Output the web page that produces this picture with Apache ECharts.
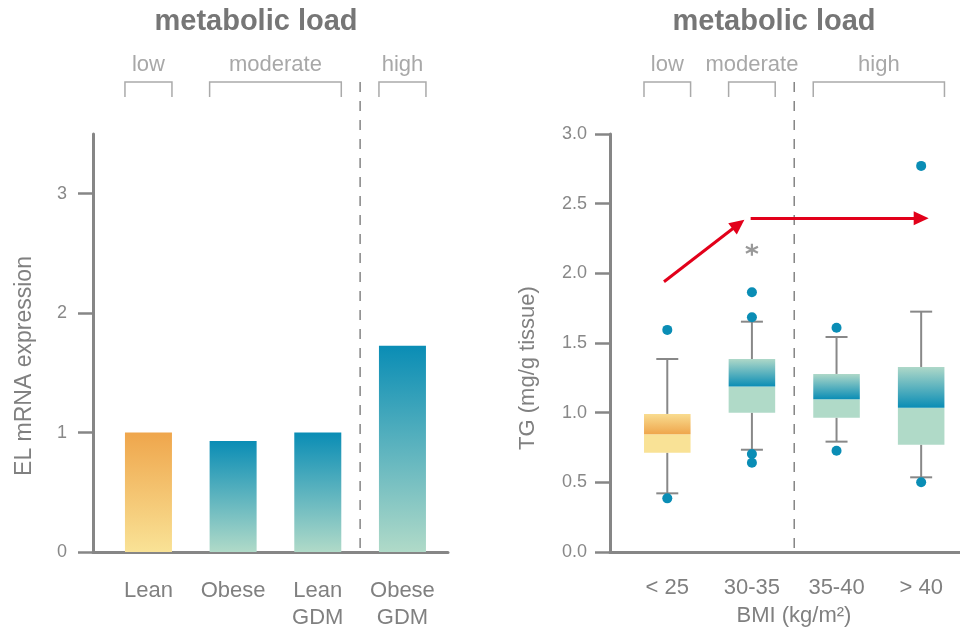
<!DOCTYPE html>
<html><head><meta charset="utf-8">
<script src="https://cdn.jsdelivr.net/npm/echarts@6/dist/echarts.min.js"></script>
<style>html,body{margin:0;padding:0;background:#fff}#c{width:960px;height:632px}</style>
</head><body><div id="c"></div>
<script>
// ---- data ----
const barCategories = ['Lean', 'Obese', 'Lean\nGDM', 'Obese\nGDM'];
const barValues = [1.0, 0.93, 1.0, 1.727];
const barYTicks = [0, 1, 2, 3];
const boxCategories = ['< 25', '30-35', '35-40', '> 40'];
// [lower whisker, Q1, median, Q3, upper whisker]
const boxStats = [
  [0.421, 0.713, 0.845, 0.991, 1.385],
  [0.734, 1.000, 1.187, 1.385, 1.653],
  [0.792, 0.964, 1.096, 1.278, 1.543],
  [0.536, 0.770, 1.036, 1.328, 1.725]
];
const outliers = [[0, 1.594], [0, 0.385], [1, 1.864], [1, 1.685], [1, 0.703], [1, 0.641],
                  [2, 1.610], [2, 0.727], [3, 2.771], [3, 0.500]];
const boxYTicks = [0, 0.5, 1, 1.5, 2, 2.5, 3];
const loadGroups = ['low', 'moderate', 'high'];
const leftGroupSpans = [[0, 0], [1, 2], [3, 3]];
const rightGroupSpans = [[0, 0], [1, 1], [2, 3]];
const significance = [[1, 2.17]];
const trendArrows = [
  [[-0.039, 1.94], [0.841, 2.352]],
  [[0.985, 2.395], [3.0, 2.395]]
];
const titleText = 'metabolic load';
const leftYName = 'EL mRNA expression';
const rightYName = 'TG (mg/g tissue)';
const rightXName = 'BMI (kg/m²)';

// ---- styles ----
const FONT = "'Liberation Sans', Arial, sans-serif";
const AXIS = '#868686';
const warmTop = '#efa64c', warmBottom = '#f9e296';
const coolTop = '#0a8db5', coolBottom = '#b0dac8';

function grad(top, bottom) {
  return new echarts.graphic.LinearGradient(0, 0, 0, 1, [
    { offset: 0, color: top }, { offset: 1, color: bottom }
  ]);
}

const axisLineStyle = { show: true, onZero: false, lineStyle: { color: AXIS, width: 3 } };

function renderBox(params, api) {
  const i = api.value(0);
  const pLo = api.coord([i, api.value(1)]);
  const pQ1 = api.coord([i, api.value(2)]);
  const pMed = api.coord([i, api.value(3)]);
  const pQ3 = api.coord([i, api.value(4)]);
  const pHi = api.coord([i, api.value(5)]);
  const x = pLo[0];
  const bw = api.size([0.55, 0])[0];
  const cw = api.size([0.26, 0])[0];
  const warm = params.dataIndex === 0;
  const ws = { stroke: '#888', lineWidth: 2 };
  return {
    type: 'group',
    children: [
      { type: 'line', shape: { x1: x, y1: pLo[1], x2: x, y2: pQ1[1] }, style: ws },
      { type: 'line', shape: { x1: x, y1: pQ3[1], x2: x, y2: pHi[1] }, style: ws },
      { type: 'line', shape: { x1: x - cw / 2, y1: pLo[1], x2: x + cw / 2, y2: pLo[1] }, style: ws },
      { type: 'line', shape: { x1: x - cw / 2, y1: pHi[1], x2: x + cw / 2, y2: pHi[1] }, style: ws },
      { type: 'rect', shape: { x: x - bw / 2, y: pMed[1], width: bw, height: pQ1[1] - pMed[1] },
        style: { fill: warm ? warmBottom : coolBottom } },
      { type: 'rect', shape: { x: x - bw / 2, y: pQ3[1], width: bw, height: pMed[1] - pQ3[1] },
        style: { fill: warm ? grad('#f9dc90', warmTop) : grad('#aed8c8', coolTop) } }
    ]
  };
}

const option = {
  animation: false,
  textStyle: { fontFamily: FONT },
  grid: [
    { left: 93, top: 134, width: 355, height: 418 },
    { left: 610, top: 134, width: 350, height: 418 }
  ],
  xAxis: [
    { type: 'value', gridIndex: 0, min: -0.655, max: 3.538,
      axisLine: axisLineStyle, axisTick: { show: false }, splitLine: { show: false },
      axisLabel: { customValues: [0, 1, 2, 3], formatter: v => barCategories[Math.round(v)],
        color: '#808080', fontSize: 22, lineHeight: 27, margin: 25, fontFamily: FONT } },
    { type: 'value', gridIndex: 1, min: -0.677, max: 3.459,
      axisLine: axisLineStyle, axisTick: { show: false }, splitLine: { show: false },
      name: rightXName, nameLocation: 'middle', nameGap: 53,
      nameTextStyle: { color: '#808080', fontSize: 22, fontFamily: FONT, padding: [0, 0, 0, 18] },
      axisLabel: { customValues: [0, 1, 2, 3], formatter: v => boxCategories[Math.round(v)],
        color: '#808080', fontSize: 22, margin: 25, fontFamily: FONT } }
  ],
  yAxis: [
    { type: 'value', gridIndex: 0, min: 0, max: 3.5,
      axisLine: axisLineStyle, splitLine: { show: false },
      axisTick: { show: true, length: 15, customValues: barYTicks, lineStyle: { color: AXIS, width: 2.5 } },
      axisLabel: { customValues: barYTicks, color: '#888', fontSize: 18, margin: 26, fontFamily: FONT } },
    { type: 'value', gridIndex: 1, min: 0, max: 3, interval: 0.5,
      axisLine: axisLineStyle, splitLine: { show: false },
      axisTick: { show: true, length: 15, customValues: boxYTicks, lineStyle: { color: AXIS, width: 2.5 } },
      axisLabel: { customValues: boxYTicks, formatter: v => v.toFixed(1), color: '#888', fontSize: 18, margin: 23, fontFamily: FONT } }
  ],
  series: [
    { type: 'bar', xAxisIndex: 0, yAxisIndex: 0, barWidth: 47,
      data: barValues.map((v, i) => ({ value: [i, v],
        itemStyle: { color: i === 0 ? grad(warmTop, warmBottom) : grad(coolTop, coolBottom) } })) },
    { type: 'custom', xAxisIndex: 1, yAxisIndex: 1, renderItem: renderBox,
      encode: { x: 0, y: [1, 2, 3, 4, 5] },
      data: boxStats.map((s, i) => [i].concat(s)) },
    { type: 'scatter', xAxisIndex: 1, yAxisIndex: 1, symbolSize: 10,
      itemStyle: { color: '#0a8db5', opacity: 1 }, data: outliers, z: 5 },
    { type: 'scatter', xAxisIndex: 1, yAxisIndex: 1, symbolSize: 12,
      symbol: 'path://M5,0L5,10M0.67,2.5L9.33,7.5M0.67,7.5L9.33,2.5',
      itemStyle: { color: 'transparent', borderColor: '#808080', borderWidth: 2.2 },
      data: significance,
      markLine: { silent: true, symbol: ['none', 'triangle'], symbolSize: [14, 15],
        lineStyle: { color: '#e2001a', width: 3, type: 'solid' },
        label: { show: false }, emphasis: { disabled: true },
        data: trendArrows.map(a => [{ coord: a[0] }, { coord: a[1] }]) } }
  ]
};

const chart = echarts.init(document.getElementById('c'));
chart.setOption(option);

const L = (x, y) => chart.convertToPixel({ xAxisIndex: 0, yAxisIndex: 0 }, [x, y]);
const R = (x, y) => chart.convertToPixel({ xAxisIndex: 1, yAxisIndex: 1 }, [x, y]);
const g = [];
function txt(x, y, text, font, fill, rot) {
  g.push({ type: 'text', x: x, y: y, rotation: rot || 0,
    style: { text: text, font: font, fill: fill, textAlign: 'center', textVerticalAlign: 'middle' } });
}
// titles
txt(256, 22, titleText, 'bold 29px ' + FONT, '#767676');
txt(774, 22, titleText, 'bold 29px ' + FONT, '#767676');
// group brackets
function brackets(P, spans, half) {
  spans.forEach((s, k) => {
    const x1 = P(s[0], 0)[0] - half, x2 = P(s[1], 0)[0] + half;
    g.push({ type: 'polyline', shape: { points: [[x1, 97], [x1, 82], [x2, 82], [x2, 97]] },
      style: { stroke: '#aaaaaa', lineWidth: 1.5, fill: null } });
    txt((x1 + x2) / 2, 65, loadGroups[k], '22px ' + FONT, '#a8a8a8');
  });
}
brackets(L, leftGroupSpans, 23.5);
brackets(R, rightGroupSpans, 23.3);
// dashed separators
function sep(P, a, b) {
  const x = (P(a, 0)[0] + P(b, 0)[0]) / 2;
  const yb = P(a, 0)[1];
  g.push({ type: 'line', shape: { x1: x, y1: 82, x2: x, y2: yb },
    style: { stroke: '#858585', lineWidth: 1.5, lineDash: [10, 9] } });
}
sep(L, 2, 3);
sep(R, 1, 2);
// y axis names
txt(25, 366, leftYName, '23px ' + FONT, '#808080', Math.PI / 2);
txt(528, 368, rightYName, '22px ' + FONT, '#808080', Math.PI / 2);
chart.setOption({ graphic: g });
</script>
</body></html>
